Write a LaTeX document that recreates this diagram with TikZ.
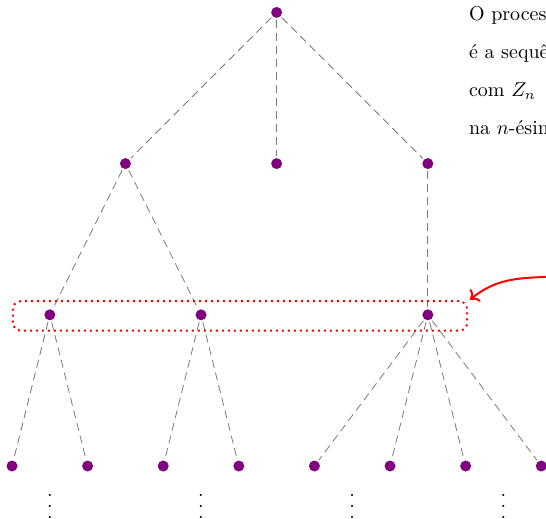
\documentclass[tikz,border=0pt]{standalone}
\usepackage{amsmath,amssymb}
\usepackage{tikz}
\usetikzlibrary{arrows.meta,calc,positioning}
\definecolor{NodePurple}{RGB}{128,0,128}
\definecolor{EdgeGray}{RGB}{120,120,120}

\begin{document}
\begin{tikzpicture}[x=1.3285cm,y=1.3285cm,
    indiv/.style={circle,fill=NodePurple,inner sep=0pt,minimum size=5.5pt,outer sep=1pt},
    ramo/.style={EdgeGray,dash pattern=on 4pt off 2.5pt,line width=0.4pt},
    geracao/.style={red,line width=1pt,dotted,rounded corners=4pt}]
      \useasboundingbox (-0.159,-0.688) rectangle (7.063,6.164);
      \clip (-0.159,-0.688) rectangle (7.063,6.164);
      % arvore
      \node[indiv] (r) at (3.5,6) {};
      \node[indiv] (a) at (1.5,4) {};
      \node[indiv] (b) at (3.5,4) {};
      \node[indiv] (c) at (5.5,4) {};
      \node[indiv] (a1) at (0.5,2) {};
      \node[indiv] (a2) at (2.5,2) {};
      \node[indiv] (c1) at (5.5,2) {};
      \foreach \i in {0,...,7}
        \node[indiv] (f\i) at (\i,0) {};
      \foreach \u/\v in {r/a,r/b,r/c,a/a1,a/a2,c/c1,a1/f0,a1/f1,a2/f2,a2/f3,c1/f4,c1/f5,c1/f6,c1/f7}
        \draw[ramo] (\u)--(\v);
      \foreach \x [count=\k] in {0.5,2.5,4.5,6.5}
        \node[inner sep=0pt] (d\k) at (\x,-0.53)
          {\vbox{\baselineskip=5.5pt\lineskiplimit=0pt\hbox{.}\hbox{.}\hbox{.}}};
      % geracao destacada
      \draw[geracao] (0.01,1.79) rectangle (6.02,2.18);
      \coordinate (g) at (6.06,2.2);
      \coordinate (s) at (7.6,2.55);
      \draw[->,red,line width=1pt] (s) to[out=190,in=40] (g);
      % texto
      \node[anchor=north west,align=left,inner sep=0pt] (txt) at (6.04,6.08)
        {O processo\\[7pt] é a sequência\\[7pt] com $Z_n$\\[7pt] na $n$-ésima geração};
    \end{tikzpicture}
\end{document}
